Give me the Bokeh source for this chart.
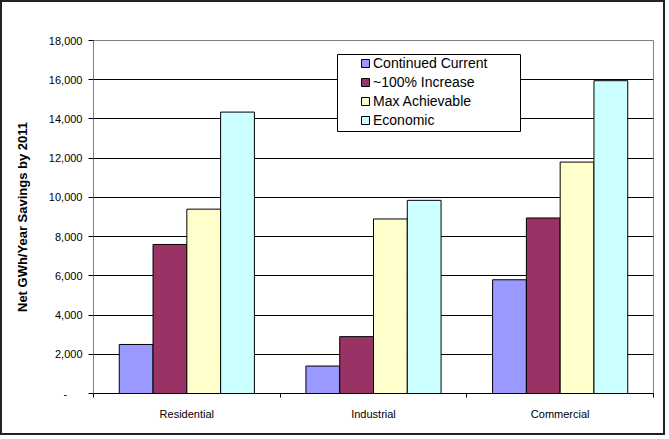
from bokeh.plotting import figure
from bokeh.models import Range1d, FixedTicker, Legend, LegendItem, BoxAnnotation, NumeralTickFormatter
from bokeh.embed import file_html
from bokeh.resources import INLINE

# Net savings by sector under each program scenario (GWh/year by 2011)
sectors = ["Residential", "Industrial", "Commercial"]
scenarios = ["Continued Current", "~100% Increase", "Max Achievable", "Economic"]
continued_current = [2500, 1400, 5800]
increase_100 = [7600, 2900, 8950]
max_achievable = [9400, 8900, 11800]
economic = [14350, 9850, 15950]
series = [continued_current, increase_100, max_achievable, economic]
colors = ["#9999FF", "#993366", "#FFFFCC", "#CCFFFF"]
y_ticks = list(range(0, 18001, 2000))

FONT = "Liberation Sans"
BAR_W = 0.181  # width of one bar in category units

p = figure(width=665, height=435, output_backend="svg", toolbar_location=None,
           x_range=Range1d(0, len(sectors)), y_range=Range1d(0, 18000),
           min_border_left=91, min_border_right=14, min_border_top=38, min_border_bottom=44,
           background_fill_color="white", border_fill_color="white")
p.styles = {"border": "2px solid #222222"}
p.outline_line_color = "#808080"
p.outline_line_width = 1

# grid
p.xgrid.grid_line_color = None
p.ygrid.ticker = FixedTicker(ticks=y_ticks)
p.ygrid.grid_line_color = "#000000"
p.ygrid.grid_line_width = 1

# y axis
ya = p.yaxis[0]
ya.ticker = FixedTicker(ticks=y_ticks, minor_ticks=[])
ya.formatter = NumeralTickFormatter(format="0,0")
ya.major_label_overrides = {0: "-\u00a0\u00a0\u00a0\u00a0\u00a0"}
ya.axis_label = "Net GWh/Year Savings by 2011"
ya.axis_label_text_font = FONT
ya.axis_label_text_font_style = "bold"
ya.axis_label_text_font_size = "13px"
ya.axis_label_text_color = "#000000"
ya.axis_label_standoff = 16
ya.major_label_text_font = FONT
ya.major_label_text_font_size = "11px"
ya.major_label_text_color = "#000000"
ya.major_label_standoff = 6
ya.major_tick_out = 5
ya.major_tick_in = 0
ya.minor_tick_out = 0
ya.minor_tick_in = 0
ya.axis_line_color = "#808080"
ya.major_tick_line_color = "#000000"

# x axis: labels at category centres, ticks at category boundaries
xa = p.xaxis[0]
centers = [i + 0.5 for i in range(len(sectors))]
xa.ticker = FixedTicker(ticks=centers, minor_ticks=list(range(len(sectors) + 1)))
xa.major_label_overrides = {c: s for c, s in zip(centers, sectors)}
xa.major_label_text_font = FONT
xa.major_label_text_font_size = "11px"
xa.major_label_text_color = "#000000"
xa.major_label_standoff = 10
xa.major_tick_out = 0
xa.major_tick_in = 0
xa.minor_tick_out = 4
xa.minor_tick_in = 0
xa.minor_tick_line_color = "#000000"
xa.axis_line_color = "#000000"

# bars
renderers = []
for j, (vals, col) in enumerate(zip(series, colors)):
    xs = [c + (j - 1.5) * BAR_W for c in centers]
    r = p.vbar(x=xs, top=vals, bottom=0, width=BAR_W, fill_color=col,
               line_color="#000000", line_width=1)
    renderers.append(r)

# legend box
box = BoxAnnotation(left=333, right=516, top=50, bottom=127,
                    left_units="canvas", right_units="canvas",
                    top_units="canvas", bottom_units="canvas",
                    fill_color="white", fill_alpha=1.0,
                    line_color="#000000", line_width=1, line_alpha=1.0)
p.add_layout(box)

legend = Legend(items=[LegendItem(label=s, renderers=[r]) for s, r in zip(scenarios, renderers)],
                location=(267, 265), padding=0, margin=0, spacing=2,
                label_height=17, glyph_width=10, glyph_height=10, label_standoff=3,
                border_line_alpha=0, background_fill_alpha=0,
                label_text_font=FONT, label_text_font_size="14px", label_text_color="#000000")
p.add_layout(legend)

open("out.html", "w").write(file_html(p, INLINE))
